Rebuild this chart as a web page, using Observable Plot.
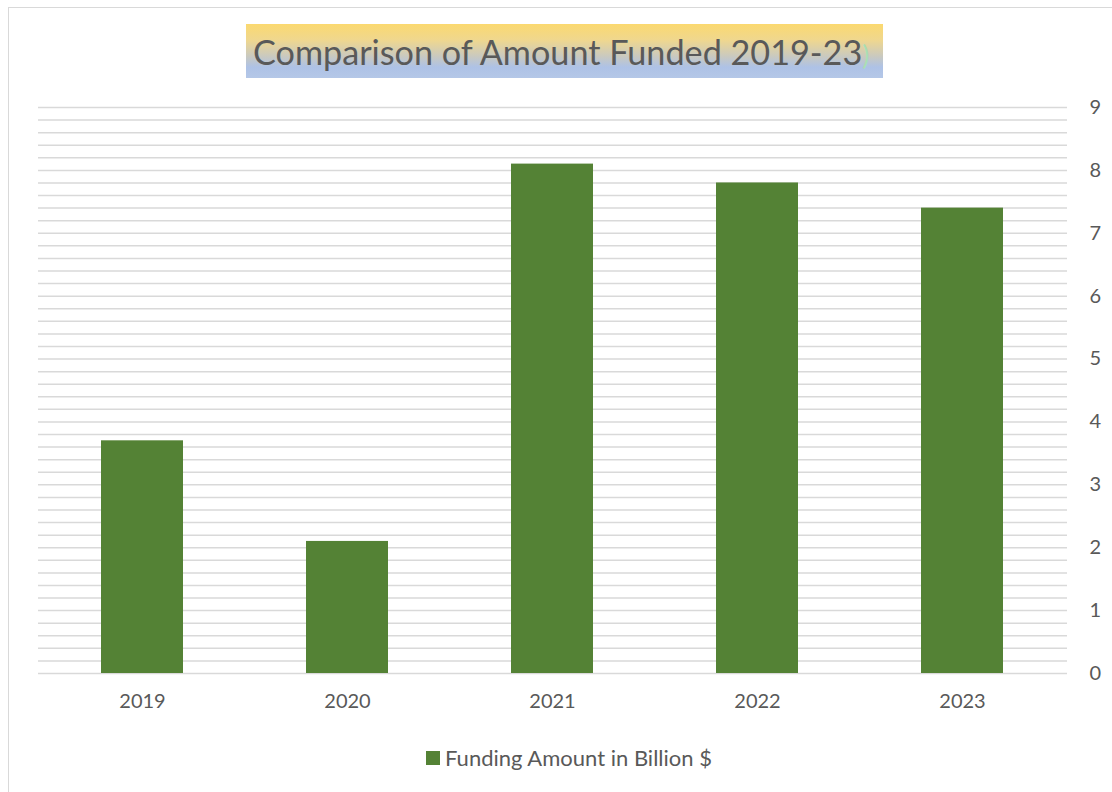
<!DOCTYPE html>
<html>
<head>
<meta charset="utf-8">
<script src="https://cdn.jsdelivr.net/npm/d3@7"></script>
<script src="https://cdn.jsdelivr.net/npm/@observablehq/plot@0.6"></script>
<style>
  html, body { margin: 0; padding: 0; background: #fff; }
  #wrap { position: relative; width: 1112px; height: 792px; overflow: hidden; font-family: Lato, "Open Sans", sans-serif; }
  #frame { position: absolute; left: 8px; top: 7px; width: 1110px; height: 790px; border: 1.5px solid #d9d9d9; box-sizing: border-box; }
  #title { position: absolute; left: 246px; top: 24px; width: 637px; height: 54px;
    background: linear-gradient(to bottom, #fbd970 0%, #efd78f 30%, #c9c9c0 60%, #aec2e6 80%, #b4c7e7 100%);
    color: #595959; font-size: 34.2px; line-height: 56px; white-space: nowrap; }
  #title span.t { position: absolute; left: 7px; top: 0; }
  #title span.p { color: #a9dfb4; font-size: 26px; }
  #chart { position: absolute; left: 0; top: 90px; }
  #legend { position: absolute; left: 426px; top: 744px; font-size: 22px; color: #595959; display: flex; align-items: center; }
  #legend .sw { width: 14px; height: 14px; background: #548235; margin-right: 5px; }
</style>
</head>
<body>
<div id="wrap">
  <div id="frame"></div>
  <div id="title"><span class="t">Comparison of Amount Funded 2019-23<span class="p">)</span></span></div>
  <div id="chart"></div>
  <div id="legend"><div class="sw"></div><span>Funding Amount in Billion $</span></div>
</div>
<script>
const years = ["2019", "2020", "2021", "2022", "2023"];
const funding = [3.7, 2.1, 8.1, 7.8, 7.4];
const yTicks = [0, 1, 2, 3, 4, 5, 6, 7, 8, 9];
const gridValues = d3.range(0, 46).map(i => i / 5);

const data = years.map((y, i) => ({year: y, value: funding[i]}));

const chart = Plot.plot({
  width: 1112,
  height: 630,
  marginTop: 17,
  marginBottom: 47,
  marginLeft: 38,
  marginRight: 45,
  style: {fontFamily: "Lato, 'Open Sans', sans-serif", fontSize: "20px", color: "#595959", background: "transparent"},
  x: {domain: years, paddingInner: 0.6, paddingOuter: 0.3, label: null},
  y: {domain: [0, 9], label: null},
  marks: [
    Plot.ruleY(gridValues, {stroke: "#d9d9d9", strokeWidth: 1.5}),
    Plot.barY(data, {x: "year", y: "value", fill: "#548235"}),
    Plot.axisX({tickSize: 0, tickPadding: 20, fontSize: 20, fill: "#595959"}),
    Plot.axisY({anchor: "right", ticks: yTicks, tickSize: 0, tickPadding: 22, fontSize: 20, fill: "#595959", textAnchor: "start"})
  ]
});
document.getElementById("chart").appendChild(chart);
</script>
</body>
</html>
